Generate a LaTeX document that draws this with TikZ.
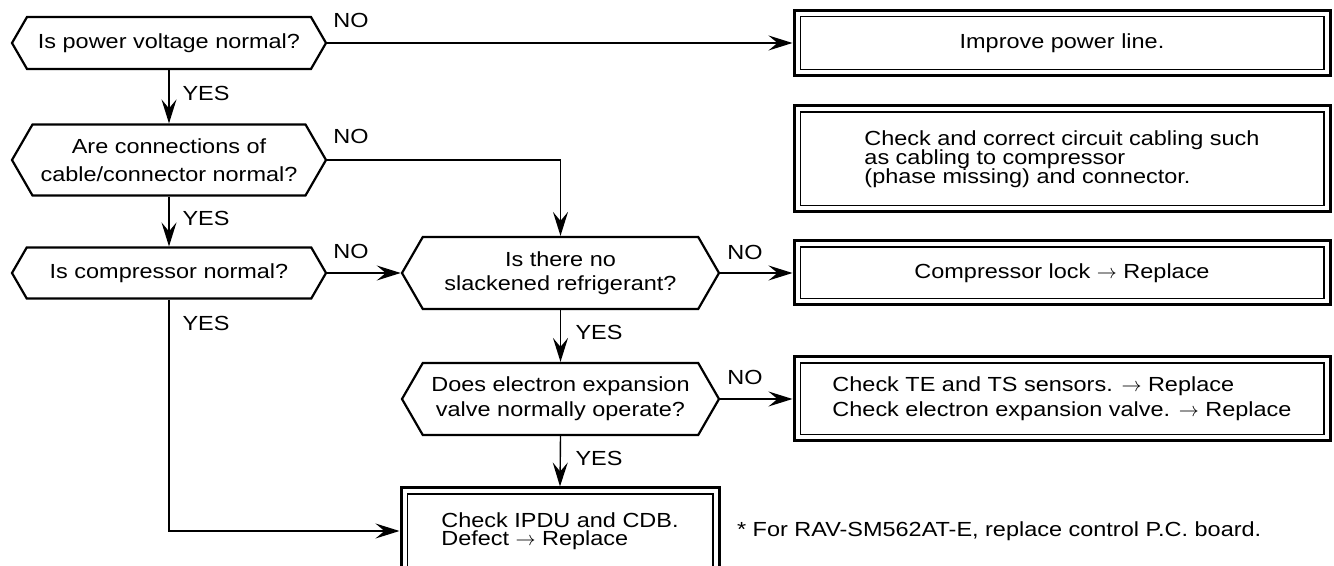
\documentclass[tikz,border=0pt]{standalone}
\usepackage{fontspec}
\setmainfont{Liberation Sans}[FakeStretch=1.15]
\usetikzlibrary{shapes.symbols, arrows.meta, positioning, calc}

\begin{document}
\lineskiplimit=-20pt
\begin{tikzpicture}[x=0.5pt, y=-0.5pt, >={Stealth[length=12pt, width=7.5pt, inset=4.5pt]},
		font=\fontsize{10.2}{13.5}\selectfont,
		decision/.style={draw, line width=1.1pt, signal, signal to=east and west, signal pointer angle=120,
			minimum width=157pt, inner sep=0pt, align=center},
		result/.style={draw, line width=1.5pt, rectangle, minimum width=268pt, inner sep=0pt, align=left},
		flow/.style={->, line width=0.7pt}]
	\useasboundingbox (0,0) rectangle (1334,566);

	% questions
	\node[decision, minimum height=26pt] (d1) at (169,43) {Is power voltage normal?};
	\node[decision, minimum height=35.5pt, font=\fontsize{10.2}{13.8}\selectfont] (d2) at (169,160) {Are connections of\\cable/connector normal?};
	\node[decision, minimum height=25.5pt] (d3) at (169,273) {Is compressor normal?};
	\node[decision, minimum height=36pt, minimum width=158.5pt, font=\fontsize{10.2}{12}\selectfont] (d4) at (560.5,273) {Is there no\\slackened refrigerant?};
	\node[decision, minimum height=36pt, minimum width=158.5pt, font=\fontsize{10.2}{12.4}\selectfont] (d5) at (560.5,399) {Does electron expansion\\valve normally operate?};

	% remedies
	\node[result, minimum height=32.5pt] (r1) at (1062,43) {Improve power line.};
	\node[result, minimum height=53pt, font=\fontsize{10.2}{9.6}\selectfont] (r2) at (1062,159) {Check and correct circuit cabling such\\as cabling to compressor\\(phase missing) and connector.};
	\node[result, minimum height=32pt] (r3) at (1062,273) {Compressor lock $\rightarrow$ Replace};
	\node[result, minimum height=42pt, font=\fontsize{10.2}{12.6}\selectfont] (r4) at (1062,399) {Check TE and TS sensors. $\rightarrow$ Replace\\Check electron expansion valve. $\rightarrow$ Replace};
	\node[result, minimum height=43pt, minimum width=159pt, font=\fontsize{10.2}{9.2}\selectfont] (ipdu) at (560,531) {Check IPDU and CDB.\\Defect $\rightarrow$ Replace};
	\foreach \b in {r1,r2,r3,r4,ipdu}
		\draw[line width=0.6pt] ([shift={(3.8pt,-3.8pt)}]\b.north west) rectangle ([shift={(-3.8pt,3.8pt)}]\b.south east);

	\node[anchor=west] (note) at (730,531) {* For RAV-SM562AT-E, replace control P.C. board.};

	% connectors
	\draw[flow] (d1.east) -- (r1.west);
	\draw[flow] (d1.south) -- (d2.north);
	\draw[flow] (d2.east) -| (d4.north);
	\draw[flow] (d2.south) -- (d3.north);
	\draw[flow] (d3.east) -- (d4.west);
	\draw[flow] (d4.east) -- (r3.west);
	\draw[flow] (d4.south) -- (d5.north);
	\draw[flow] (d5.east) -- (r4.west);
	\draw[flow] (d5.south) -- (ipdu.north);
	\draw[flow] (d3.south) |- (ipdu.west);

	% answers
	\node (no1) at (351,20) {NO};
	\node (no2) at (351,136) {NO};
	\node (no3) at (351,251) {NO};
	\node (no4) at (745,252) {NO};
	\node (no5) at (745,377) {NO};
	\node (yes1) at (206,93) {YES};
	\node (yes2) at (206,218) {YES};
	\node (yes3) at (206,323) {YES};
	\node (yes4) at (599,332) {YES};
	\node (yes5) at (599,458) {YES};
\end{tikzpicture}
\end{document}
